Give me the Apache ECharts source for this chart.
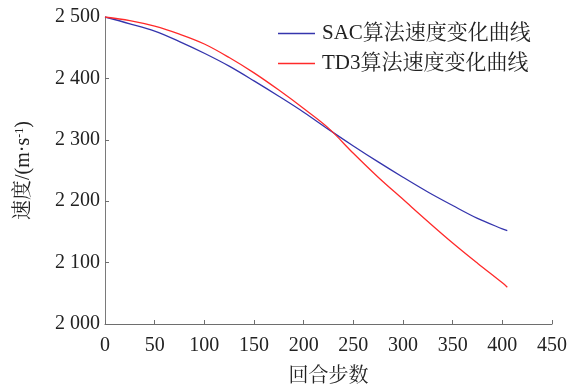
<!DOCTYPE html>
<html>
<head>
<meta charset="utf-8">
<script src="https://cdn.jsdelivr.net/npm/echarts@6/dist/echarts.min.js"></script>
<style>
  html, body { margin: 0; padding: 0; background: #fff; }
  #chart { width: 586px; height: 387px; }
</style>
</head>
<body>
<div id="chart"></div>
<script>
// Episode steps and speed readings for the two algorithms
const steps = [0, 25, 50, 75, 100, 125, 150, 175, 200, 225, 250, 275, 300, 325, 350, 375, 400, 405];
const sacSpeed = [2500, 2489, 2477, 2460, 2441, 2420, 2396, 2371, 2345, 2317, 2290, 2264, 2239, 2215, 2193, 2172, 2155, 2152];
const td3Speed = [2500, 2494, 2485, 2472, 2456, 2434, 2409, 2381, 2351, 2319, 2278, 2239, 2203, 2167, 2132, 2099, 2067, 2060];
const seriesNames = ['SAC算法速度变化曲线', 'TD3算法速度变化曲线'];
const seriesColors = ['#3535ad', '#ff2a2a'];

const serif = '"Liberation Serif", "Times New Roman", "Noto Serif CJK SC", "Noto Sans CJK SC", serif';

function pairs(xs, ys) {
  return xs.map((x, i) => [x, ys[i]]);
}

const chart = echarts.init(document.getElementById('chart'), null, { renderer: 'canvas' });

chart.setOption({
  animation: false,
  backgroundColor: '#ffffff',
  grid: { left: 105, right: 34, top: 17, bottom: 63, containLabel: false, outerBoundsMode: 'none' },
  legend: {
    orient: 'vertical',
    left: 278,
    top: 23,
    padding: 0,
    itemWidth: 37,
    itemHeight: 1.5,
    itemGap: 9,
    icon: 'rect',
    textStyle: { fontFamily: serif, fontSize: 21, color: '#222', padding: [0, 0, 0, 2] },
    data: seriesNames
  },
  xAxis: {
    type: 'value',
    min: 0,
    max: 450,
    interval: 50,
    name: '回合步数',
    nameLocation: 'middle',
    nameGap: 43,
    nameTextStyle: { fontFamily: serif, fontSize: 20, color: '#222' },
    axisLine: { show: true, lineStyle: { color: '#6e6e6e', width: 1 } },
    axisTick: { show: true, inside: true, length: 4, lineStyle: { color: '#6e6e6e' } },
    axisLabel: { fontFamily: serif, fontSize: 20, color: '#222', margin: 12 },
    splitLine: { show: false }
  },
  yAxis: {
    type: 'value',
    min: 2000,
    max: 2500,
    interval: 100,
    name: '{a|速度/(m·s}{s|-1}{a|)}',
    nameLocation: 'middle',
    nameGap: 71,
    nameTextStyle: {
      fontFamily: serif, fontSize: 20, color: '#222',
      rich: {
        a: { fontFamily: serif, fontSize: 20, color: '#222' },
        s: { fontFamily: serif, fontSize: 12, color: '#222', verticalAlign: 'top', lineHeight: 20, padding: [0, 0, 9, 0] }
      }
    },
    axisLine: { show: true, lineStyle: { color: '#7a7a7a', width: 1 } },
    axisTick: { show: true, inside: true, length: 4, lineStyle: { color: '#6e6e6e' } },
    axisLabel: {
      fontFamily: serif, fontSize: 20, color: '#222', margin: 5,
      formatter: v => String(v).replace(/(\d)(\d{3})$/, '$1 $2')
    },
    splitLine: { show: false }
  },
  series: [
    {
      name: seriesNames[0],
      type: 'line',
      data: pairs(steps, sacSpeed),
      smooth: 0.35,
      showSymbol: false,
      color: seriesColors[0],
      lineStyle: { width: 1.3, color: seriesColors[0] }
    },
    {
      name: seriesNames[1],
      type: 'line',
      data: pairs(steps, td3Speed),
      smooth: 0.35,
      showSymbol: false,
      color: seriesColors[1],
      lineStyle: { width: 1.3, color: seriesColors[1] }
    }
  ]
});
</script>
</body>
</html>
